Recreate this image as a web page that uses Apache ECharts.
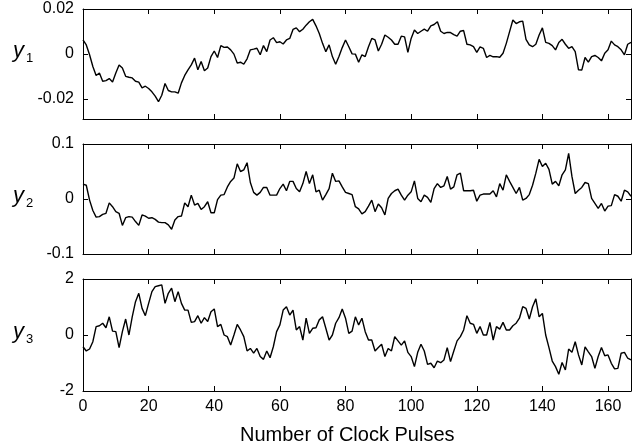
<!DOCTYPE html>
<html>
<head>
<meta charset="utf-8">
<script src="https://cdn.jsdelivr.net/npm/echarts@6/dist/echarts.min.js"></script>
<style>
  html, body { margin: 0; padding: 0; background: #fff; }
  #chart { width: 635px; height: 448px; }
</style>
</head>
<body>
<div id="chart"></div>
<script>
// three state traces vs clock pulses
const y1 = [
  0.0062, 0.0040, -0.0004, -0.0056, -0.0096, -0.0085, -0.0122, -0.0119, -0.0110, -0.0125,
  -0.0085, -0.0049, -0.0063, -0.0100, -0.0104, -0.0107, -0.0122, -0.0126, -0.0151, -0.0144,
  -0.0154, -0.0169, -0.0188, -0.0213, -0.0184, -0.0132, -0.0163, -0.0169, -0.0169, -0.0175,
  -0.0129, -0.0096, -0.0071, -0.0049, -0.0019, -0.0071, -0.0034, -0.0075, -0.0063, -0.0012,
  0.0013, -0.0016, 0.0037, 0.0029, 0.0031, 0.0018, -0.0001, -0.0041, -0.0037, -0.0046,
  -0.0022, 0.0018, 0.0021, 0.0025, -0.0004, 0.0037, 0.0010, 0.0062, 0.0072, 0.0050,
  0.0054, 0.0044, 0.0062, 0.0069, 0.0109, 0.0116, 0.0099, 0.0110, 0.0128, 0.0143,
  0.0154, 0.0125, 0.0091, 0.0047, 0.0010, 0.0040, -0.0012, -0.0046, -0.0012, 0.0028,
  0.0062, 0.0032, 0.0000, -0.0001, -0.0037, -0.0004, -0.0012, 0.0032, 0.0069, 0.0062,
  0.0013, 0.0043, 0.0084, 0.0074, 0.0062, 0.0043, 0.0043, 0.0079, 0.0076, 0.0007,
  0.0069, 0.0106, 0.0091, 0.0101, 0.0110, 0.0101, 0.0125, 0.0131, 0.0143, 0.0101,
  0.0091, 0.0096, 0.0095, 0.0086, 0.0079, 0.0101, 0.0104, 0.0043, 0.0040, 0.0032,
  0.0007, 0.0031, 0.0025, -0.0016, -0.0007, -0.0013, -0.0012, -0.0015, 0.0003, 0.0047,
  0.0099, 0.0151, 0.0135, 0.0143, 0.0146, 0.0065, 0.0040, 0.0032, 0.0043, 0.0084,
  0.0116, 0.0051, 0.0047, 0.0037, 0.0018, 0.0051, 0.0065, 0.0043, 0.0025, 0.0032,
  0.0010, -0.0071, -0.0072, -0.0016, -0.0037, -0.0012, -0.0007, -0.0016, -0.0031, 0.0003,
  0.0018, 0.0057, 0.0040, 0.0032, 0.0018, -0.0004, 0.0043, 0.0051
]
const y2 = [
  0.027, 0.025, -0.002, -0.021, -0.033, -0.032, -0.028, -0.026, -0.007, -0.014,
  -0.023, -0.026, -0.048, -0.034, -0.032, -0.033, -0.041, -0.048, -0.029, -0.031,
  -0.035, -0.034, -0.037, -0.042, -0.043, -0.043, -0.047, -0.055, -0.038, -0.032,
  -0.031, -0.007, -0.014, 0.007, -0.011, -0.008, -0.019, -0.014, -0.005, -0.025,
  -0.025, -0.001, 0.007, 0.008, 0.022, 0.032, 0.038, 0.064, 0.050, 0.053,
  0.066, 0.030, 0.012, 0.007, 0.012, 0.021, 0.021, 0.007, 0.007, 0.007,
  0.019, 0.027, 0.015, 0.032, 0.032, 0.019, 0.013, 0.028, 0.050, 0.028,
  0.044, 0.013, 0.016, -0.002, 0.008, 0.019, 0.047, 0.032, 0.033, 0.022,
  0.012, 0.010, 0.008, -0.014, -0.018, -0.027, -0.023, -0.013, -0.002, -0.023,
  -0.009, -0.016, -0.029, 0.001, 0.010, 0.015, 0.018, 0.007, -0.002, 0.007,
  0.013, 0.033, 0.001, -0.005, 0.007, 0.003, -0.006, 0.019, 0.028, 0.021,
  0.024, 0.041, 0.018, 0.022, 0.044, 0.047, 0.015, 0.015, 0.015, 0.016,
  -0.004, 0.007, 0.009, 0.009, 0.009, 0.015, 0.004, 0.028, 0.016, 0.044,
  0.032, 0.021, 0.010, 0.021, -0.002, 0.001, 0.008, 0.025, 0.047, 0.072,
  0.059, 0.065, 0.054, 0.027, 0.032, 0.024, 0.044, 0.053, 0.083, 0.041,
  0.010, 0.016, 0.021, 0.030, 0.028, 0.001, -0.008, -0.017, -0.008, -0.022,
  -0.013, -0.012, 0.008, 0.005, -0.004, 0.016, 0.013, 0.005
]
const y3 = [
  -0.42, -0.57, -0.50, -0.24, 0.30, 0.33, 0.42, 0.26, 0.65, 0.14,
  0.12, -0.45, 0.12, 0.57, 0.00, 0.65, 1.19, 1.49, 0.95, 0.69,
  1.13, 1.55, 1.73, 1.76, 1.79, 1.13, 1.49, 1.67, 1.19, 1.55,
  1.13, 0.89, 0.89, 0.45, 0.48, 0.69, 0.42, 0.62, 0.48, 0.83,
  0.93, 0.30, 0.38, 0.00, -0.06, -0.36, 0.00, 0.38, 0.18, -0.06,
  -0.57, -0.48, -0.65, -0.48, -0.77, -0.87, -0.57, -0.81, -0.42, 0.12,
  0.36, 0.89, 1.01, 0.71, 0.89, 0.18, 0.30, -0.18, 0.60, 0.06,
  0.24, 0.26, 0.54, 0.65, 0.24, -0.18, 0.00, 0.42, 0.62, 0.93,
  0.60, 0.06, 0.14, 0.65, 0.36, 0.60, 0.12, -0.18, -0.18, -0.57,
  -0.45, -0.33, -0.77, -0.48, -0.57, -0.06, -0.21, -0.36, -0.21, -0.62,
  -0.77, -1.13, -0.62, -0.33, -0.57, -1.05, -1.01, -1.17, -0.93, -0.99,
  -0.89, -0.45, -0.95, -0.57, -0.21, -0.06, 0.18, 0.69, 0.42, 0.38,
  0.06, 0.30, 0.00, 0.00, 0.45, -0.18, 0.30, 0.21, 0.45, 0.18,
  0.18, 0.33, 0.42, 0.60, 1.01, 0.95, 0.57, 1.01, 1.29, 0.65,
  0.77, 0.00, -0.45, -0.93, -1.13, -1.40, -0.98, -1.25, -0.50, -0.62,
  -0.24, -0.71, -1.07, -0.42, -0.60, -0.77, -1.19, -0.77, -0.45, -0.74,
  -0.71, -1.01, -1.21, -1.19, -0.65, -0.62, -0.83, -0.89
]

const xTicks = [0, 20, 40, 60, 80, 100, 120, 140, 160]
const yTicks = [
  [-0.02, 0, 0.02],
  [-0.1, 0, 0.1],
  [-2, 0, 2],
]
const yRange = [[-0.029, 0.02], [-0.1, 0.1], [-2, 2]]
const names = [['y', '1'], ['y', '2'], ['y', '3']]
const traces = [y1, y2, y3]

const FONT = 'Liberation Sans, Arial, sans-serif'
const grids = [
  { left: 83, top: 9, width: 548, height: 110 },
  { left: 83, top: 144, width: 548, height: 110 },
  { left: 83, top: 279, width: 548, height: 112 },
]

const line = { show: true, onZero: false, lineStyle: { color: '#000', width: 1 } }
const tick = (vals) => ({
  show: true, inside: true, length: 5, customValues: vals,
  lineStyle: { color: '#000', width: 1 },
})

const xAxis = []
const yAxis = []
const series = []
const graphic = []

grids.forEach((g, k) => {
  const last = k === grids.length - 1
  // bottom + top x axes (top one only carries ticks)
  ;['bottom', 'top'].forEach((pos) => {
    xAxis.push({
      type: 'value', gridIndex: k, position: pos,
      min: 0, max: 167,
      axisLine: line, axisTick: tick(xTicks), splitLine: { show: false },
      axisLabel: {
        show: last && pos === 'bottom', customValues: xTicks,
        color: '#000', fontSize: 16, fontFamily: FONT, margin: 8,
      },
    })
  })
  ;['left', 'right'].forEach((pos) => {
    yAxis.push({
      type: 'value', gridIndex: k, position: pos,
      min: yRange[k][0], max: yRange[k][1],
      axisLine: line, axisTick: tick(yTicks[k]), splitLine: { show: false },
      axisLabel: {
        show: pos === 'left', customValues: yTicks[k],
        color: '#000', fontSize: 16, fontFamily: FONT, margin: 9,
      },
    })
  })
  series.push({
    type: 'line',
    xAxisIndex: k * 2, yAxisIndex: k * 2,
    data: traces[k].map((v, i) => [i, v]),
    showSymbol: false, symbol: 'none', animation: false,
    lineStyle: { color: '#000', width: 1.4 },
  })
  const cy = g.top + (yRange[k][1] / (yRange[k][1] - yRange[k][0])) * g.height
  graphic.push({
    type: 'text', left: 13, top: cy - 14,
    style: { text: names[k][0], font: 'italic 22px ' + FONT, fill: '#000' },
  })
  graphic.push({
    type: 'text', left: 26, top: cy - 2,
    style: { text: names[k][1], font: '13px ' + FONT, fill: '#000' },
  })
})

graphic.push({
  type: 'text', left: 240, top: 425,
  style: { text: 'Number of Clock Pulses', font: '20px ' + FONT, fill: '#000' },
})

const chart = echarts.init(document.getElementById('chart'), null, { renderer: 'canvas' })
chart.setOption({
  animation: false,
  grid: grids,
  xAxis, yAxis, series, graphic,
})
</script>
</body>
</html>
